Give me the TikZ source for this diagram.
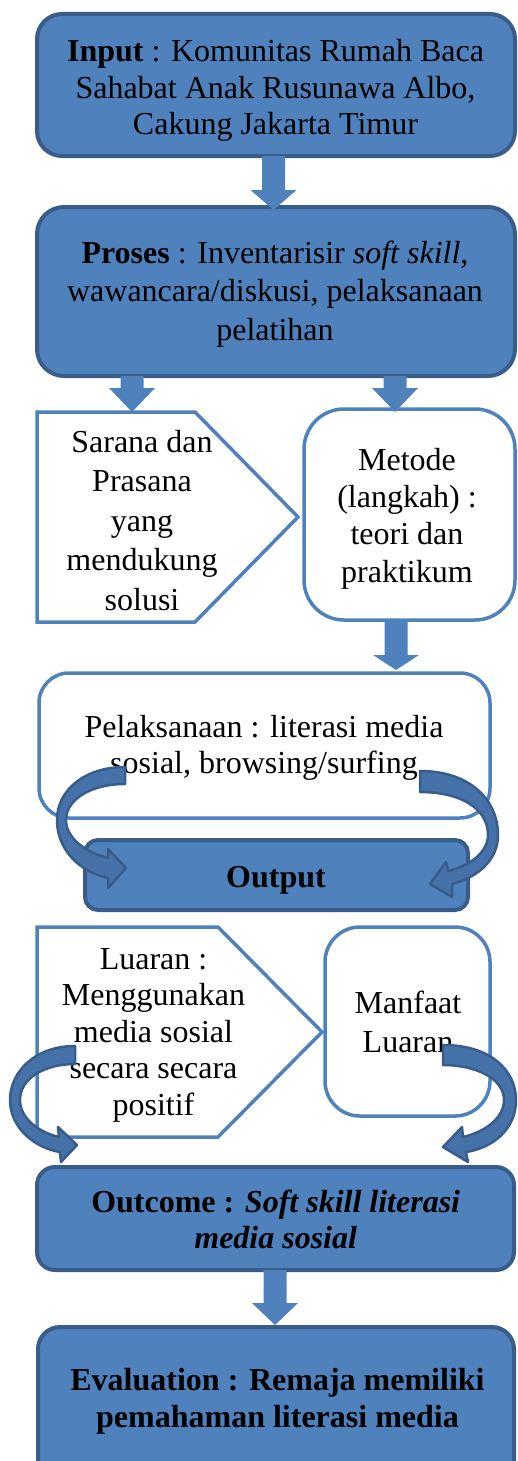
\documentclass[tikz,border=0pt]{standalone}
\usepackage{fontspec}
\setmainfont{Liberation Serif}
\definecolor{bfill}{HTML}{4F81BD}
\definecolor{bdark}{HTML}{385D8A}
\definecolor{carrow}{HTML}{4672AA}
\newcommand{\bdarrow}[4]{%
  \fill[bfill] (#1-11.5,#2) -- (#1+11.5,#2) -- (#1+11.5,#3) -- (#1+23,#3) -- (#1,#4) -- (#1-23,#3) -- (#1-11.5,#3) -- cycle;}
\begin{document}
\begin{tikzpicture}[x=1pt,y=-1pt,
  boxblue/.style={draw=bdark,fill=bfill,line width=4pt,inner sep=0pt,outer sep=0pt,rectangle},
  boxwhite/.style={draw=bfill,fill=white,line width=3.5pt,inner sep=0pt,outer sep=0pt,rectangle},
  txt/.style={align=center,inner sep=0pt,anchor=base,font=\fontsize{32}{36.5}\selectfont},
  curvarrow/.style={draw=bdark,fill=carrow,line width=2.5pt,line join=round}]
\useasboundingbox (0,0) rectangle (517,1461);
% boxes
\node[boxblue,rounded corners=25pt,minimum width=478pt,minimum height=142pt] (inbox) at (276,85) {};
\node[boxblue,rounded corners=27pt,minimum width=478pt,minimum height=169pt] (proses) at (276,291.5) {};
\draw[draw=bfill,fill=white,line width=3.5pt] (37,412) -- (195,412) -- (298,517) -- (195,622) -- (37,622) -- cycle;
\node[boxwhite,rounded corners=40pt,minimum width=211pt,minimum height=211pt] (metode) at (409.5,514.5) {};
\node[boxwhite,rounded corners=30pt,minimum width=451pt,minimum height=145pt] (pelak) at (264.5,745.5) {};
\node[boxblue,rounded corners=13pt,minimum width=383pt,minimum height=70pt] (output) at (276.5,875) {};
\draw[draw=bfill,fill=white,line width=3.5pt] (37,927) -- (218,927) -- (322,1032) -- (218,1137) -- (37,1137) -- cycle;
\node[boxwhite,rounded corners=35pt,minimum width=165pt,minimum height=189pt] (manfaat) at (407.5,1021.5) {};
\node[boxblue,rounded corners=18pt,minimum width=477pt,minimum height=103pt] (outcome) at (275.5,1218.5) {};
\node[boxblue,rounded corners=22pt,minimum width=476pt,minimum height=163pt] (eval) at (276,1408.5) {};
% block arrows
\bdarrow{273.5}{156}{190}{210}
\bdarrow{132}{376}{388}{412}
\bdarrow{395}{376}{388}{412}
\bdarrow{396}{620}{655}{670}
\bdarrow{275}{1270}{1303}{1325}
% texts (anchor=base is the last line)
\node[txt] (tin) at (275.5,135) {\textbf{Input} : Komunitas Rumah Baca\\Sahabat Anak Rusunawa Albo,\\Cakung Jakarta Timur};
\node[txt,font=\fontsize{32}{38.5}\selectfont] (tpro) at (275,340) {\textbf{Proses} : Inventarisir \textit{soft skill},\\wawancara/diskusi, pelaksanaan\\pelatihan};
\node[txt,font=\fontsize{32}{39.5}\selectfont] (tsar) at (142,610) {Sarana dan\\Prasana\\yang\\mendukung\\solusi};
\node[txt,font=\fontsize{32}{37.3}\selectfont] (tmet) at (407,582) {Metode\\(langkah) :\\teori dan\\praktikum};
\node[txt,font=\fontsize{32}{36}\selectfont] (tpel) at (264,773) {Pelaksanaan : literasi media\\sosial, browsing/surfing};
\node[txt] (tout) at (276,887) {\textbf{Output}};
\node[txt] (tlua) at (153.5,1115) {Luaran :\\Menggunakan\\media sosial\\secara secara\\positif};
\node[txt,font=\fontsize{32}{39}\selectfont] (tman) at (408,1052) {Manfaat\\Luaran};
\node[txt,font=\fontsize{32}{36}\bfseries\selectfont] (tocm) at (275.7,1248) {Outcome : \textit{Soft skill literasi}\\\textit{media sosial}};
\node[txt,font=\fontsize{32}{37}\bfseries\selectfont] (tev) at (277.5,1427) {Evaluation : Remaja memiliki\\pemahaman literasi media};
% curved arrows
\draw[curvarrow] (125,767) .. controls (85,767) and (57,790) .. (57,820) .. controls (57,850) and (80,872) .. (108,878) -- (108,888) -- (126,868) -- (108,849) -- (108,858) .. controls (85,852) and (66,838) .. (66,820) .. controls (66,800) and (90,784) .. (125,784) -- cycle;
\draw[curvarrow] (420,771) .. controls (470,771) and (498,800) .. (498,835) .. controls (498,862) and (475,878) .. (452,884) -- (452,897) -- (430,884) -- (446,862) -- (448,871) .. controls (470,866) and (488,852) .. (488,835) .. controls (488,808) and (460,792) .. (420,792) -- cycle;
\draw[curvarrow] (75,1046) .. controls (35,1046) and (10,1072) .. (10,1100) .. controls (10,1128) and (35,1148) .. (60,1152) -- (61,1162) -- (77,1145) -- (58,1127) -- (59,1137) .. controls (38,1132) and (20,1118) .. (20,1100) .. controls (20,1078) and (45,1064) .. (75,1064) -- cycle;
\draw[curvarrow] (443,1045) .. controls (490,1045) and (516,1070) .. (516,1100) .. controls (516,1130) and (492,1148) .. (466,1152) -- (468,1162) -- (443,1147) -- (462,1127) -- (463,1137) .. controls (485,1132) and (504,1118) .. (504,1100) .. controls (504,1078) and (475,1065) .. (443,1065) -- cycle;
\end{tikzpicture}
\end{document}
